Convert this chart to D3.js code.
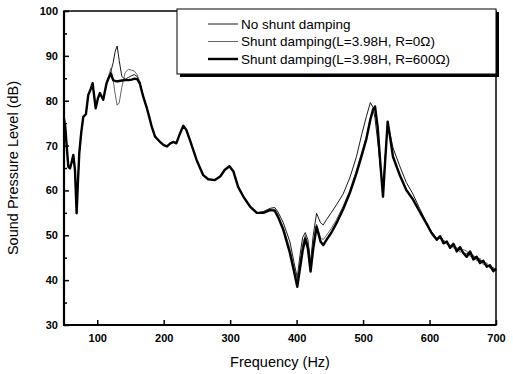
<!DOCTYPE html>
<html>
<head>
<meta charset="utf-8">
<script src="https://cdn.jsdelivr.net/npm/d3@7"></script>
<style>
  body { margin: 0; background: #fff; }
  text { font-family: "Liberation Sans", Arial, sans-serif; fill: #000; }
</style>
</head>
<body>
<div id="chart"></div>
<script>
// frequency grid (Hz), shared by the three curves
var freq = [50, 52, 54, 56.5, 59, 61, 64, 66.5, 69, 71, 73, 76, 79, 83, 86.5, 90, 93, 97.7, 101, 104,
  109, 114, 117, 120.5, 124, 127, 130, 133, 137, 142, 147, 152, 156, 160, 164, 169, 174, 178, 182, 187,
  194, 200, 205, 210, 215, 219, 224, 229.5, 234, 239.5, 249.5, 259.5, 267, 277, 285, 292, 299, 305, 312, 320,
  330, 340, 350, 360, 367, 372, 380, 390, 396, 401, 405, 409, 413, 417, 421, 425, 430, 436, 440, 445,
  452, 460, 470, 480, 490, 498, 505, 511, 515, 518, 522, 526, 530, 533, 537, 540, 545, 555, 565, 575,
  585, 595, 603, 611, 616, 621, 626, 631, 636, 641, 646, 651, 656, 661, 666, 671, 676, 681, 686, 691, 696, 700];

// shunt damping L=3.98H, R=600 ohm (thick)
var spl600 = [76, 74, 70, 65.3, 64.9, 66, 67.9, 64.6, 54.9, 62, 68.3, 73, 76.4, 77, 81.3, 82.5, 83.9, 78.3, 80.5, 81.7,
  80.2, 83.9, 85, 86, 84.6, 84.4, 84.3, 84.4, 84.5, 84.6, 84.6, 84.7, 84.9, 84.8, 83.9, 81, 78.7, 76.5, 74.2, 72,
  70.9, 70.1, 69.8, 70.5, 70.8, 70.5, 72.5, 74.4, 73.5, 71.2, 66.8, 63.4, 62.5, 62.3, 63.1, 64.6, 65.4, 64.2, 60.8, 58.6,
  56.4, 55, 55, 55.6, 55.5, 54.1, 51.2, 46, 42, 38.5, 42.5, 46.5, 49.3, 47, 41.9, 47, 51.9, 48.6, 47.8, 49,
  50.5, 52.7, 55.8, 59.4, 63.8, 67.8, 71.5, 75.8, 78, 78.7, 74, 66, 58.6, 66, 75.3, 72.5, 67.5, 63.5, 60.1, 58,
  55.3, 52.7, 50.5, 49, 49.8, 48.2, 48.6, 47.2, 48.1, 46.4, 47.3, 46, 45.2, 46.4, 44.6, 45.2, 43.8, 44.3, 43, 43.3, 42, 42.5];

// shunt damping L=3.98H, R=0 ohm
var spl0 = [76, 74, 70, 65.3, 64.9, 66, 67.9, 64.6, 55.5, 62, 68.3, 73, 76.4, 77, 81.3, 82.5, 83.9, 78.5, 80.5, 81.7,
  80.2, 83.9, 85.5, 87.2, 84.5, 81.5, 79, 79.5, 83, 86.3, 87, 86.8, 86.6, 85.8, 84.3, 81.2, 78.7, 76.5, 74.2, 72,
  70.9, 70.1, 69.8, 70.5, 70.8, 70.5, 72.5, 74.4, 73.5, 71.2, 66.8, 63.4, 62.5, 62.3, 63.1, 64.6, 65.4, 64.2, 60.8, 58.6,
  56.4, 55, 55.2, 55.8, 55.8, 54.6, 51.8, 47, 43, 39.5, 44, 48, 50, 48, 42.3, 48, 52.5, 49.5, 49, 50,
  51.5, 53.5, 56.5, 60, 64.5, 68.5, 72, 76.3, 78.3, 78.9, 74.5, 66.5, 59.5, 66.5, 75.3, 72.5, 67.8, 63.6, 60.3, 58.2,
  55.4, 52.8, 50.7, 49.2, 49.3, 48.6, 48, 47.8, 47.2, 47.3, 46.2, 46.8, 46.5, 45.3, 45.6, 44.3, 44.9, 43.4, 43.9, 42.6, 42.9, 42.1];

// no shunt damping
var splNone = [76.5, 74, 70.5, 65.5, 65, 66, 67.8, 64.8, 55.5, 62, 68.3, 73, 76.4, 77, 81.3, 82.5, 83.9, 78.3, 80.5, 81.7,
  80.2, 83.9, 85, 86.5, 88.5, 91, 92.2, 89, 85.4, 84.8, 85.2, 85.6, 85.8, 85.4, 84.2, 81.2, 78.7, 76.5, 74.2, 72,
  70.9, 70.1, 69.8, 70.5, 70.8, 70.5, 72.5, 74.4, 73.5, 71.2, 66.8, 63.4, 62.5, 62.3, 63.1, 64.6, 65.4, 64.2, 60.8, 58.6,
  56.4, 55, 55.3, 56, 56.2, 55.2, 52.8, 48.5, 44, 40.5, 45.5, 49.5, 50.6, 49, 44, 50, 54.9, 52.8, 52.3, 53.5,
  55, 56.8, 59.2, 62.8, 67.5, 72.5, 76.5, 79.6, 78.5, 76, 71, 65, 60.5, 67, 74.5, 73, 69.5, 65.5, 61.8, 59.2,
  56, 53, 50.8, 49.3, 49.8, 48.8, 48.5, 47.5, 47.6, 46.9, 47.6, 46.1, 45.9, 46.4, 45.2, 45.3, 44.4, 44.2, 43.1, 43.4, 42.5, 42.6];

var xTicks = [100, 200, 300, 400, 500, 600, 700];
var yTicks = [30, 40, 50, 60, 70, 80, 90, 100];
var yMinor = [35, 45, 55, 65, 75, 85, 95];

var legendLabels = ["No shunt damping", "Shunt damping(L=3.98H, R=0\u03a9)", "Shunt damping(L=3.98H, R=600\u03a9)"];

var margin = {top: 11, right: 17, bottom: 49, left: 64},
  width = 513 - margin.left - margin.right,
  height = 374 - margin.top - margin.bottom;

var svg = d3.select("#chart")
  .append("svg")
  .attr("width", 513)
  .attr("height", 374)
  .append("g")
  .attr("transform", "translate(" + margin.left + "," + margin.top + ")");

var x = d3.scaleLinear().domain([50, 700]).range([0, width]);
var y = d3.scaleLinear().domain([30, 100]).range([height, 0]);

// curves
var series = [
  {values: splNone, color: "#000", w: 0.9},
  {values: spl0, color: "#555", w: 0.9},
  {values: spl600, color: "#000", w: 2.4}
];

var line = d3.line()
  .x(function(d) { return x(d[0]); })
  .y(function(d) { return y(d[1]); });

svg.selectAll("path.curve")
  .data(series)
  .enter()
  .append("path")
    .attr("class", "curve")
    .attr("d", function(s) { return line(d3.zip(freq, s.values)); })
    .style("fill", "none")
    .style("stroke", function(s) { return s.color; })
    .style("stroke-width", function(s) { return s.w; })
    .style("stroke-linejoin", "round");

// axes, ticks pointing inward
svg.append("g")
  .attr("transform", "translate(0," + height + ")")
  .call(d3.axisBottom(x).tickValues(xTicks).tickSize(-5).tickPadding(9));
svg.append("g")
  .call(d3.axisLeft(y).tickValues(yTicks).tickSize(-5).tickPadding(6));
svg.append("g")
  .call(d3.axisLeft(y).tickValues(yMinor).tickSize(-3).tickFormat(""));

svg.selectAll(".domain").remove();
svg.selectAll(".tick line").style("stroke", "#000").style("stroke-width", 1.5);
svg.selectAll(".tick text")
  .style("font-family", "'Liberation Sans', Arial, sans-serif")
  .style("font-size", "11px")
  .style("font-weight", "bold");

// frame
svg.append("rect")
  .attr("width", width)
  .attr("height", height)
  .style("fill", "none")
  .style("stroke", "#000")
  .style("stroke-width", 1.5);
svg.append("path")
  .attr("d", "M0,0V" + height + "H" + width)
  .style("fill", "none")
  .style("stroke", "#000")
  .style("stroke-width", 2.2);

// axis titles
svg.append("text")
  .attr("x", width / 2)
  .attr("y", height + 42)
  .attr("text-anchor", "middle")
  .style("font-size", "14.5px")
  .text("Frequency (Hz)");
svg.append("text")
  .attr("transform", "translate(-46," + (height / 2) + ") rotate(-90)")
  .attr("text-anchor", "middle")
  .style("font-size", "14.5px")
  .text("Sound Pressure Level (dB)");

// legend with drop shadow
var lx = 113, ly = -2, lw = width - 113, lh = 65;
svg.append("rect")
  .attr("x", lx + 3).attr("y", ly + 3)
  .attr("width", lw).attr("height", lh)
  .style("fill", "#000");
svg.append("rect")
  .attr("x", lx).attr("y", ly)
  .attr("width", lw).attr("height", lh)
  .style("fill", "#fff")
  .style("stroke", "#000")
  .style("stroke-width", 1);

var legend = svg.selectAll("g.leg")
  .data(series)
  .enter()
  .append("g")
    .attr("class", "leg")
    .attr("transform", function(d, i) { return "translate(" + (lx + 31) + "," + (ly + 15 + i * 17.5) + ")"; });
legend.append("line")
  .attr("x1", 0).attr("x2", 30)
  .style("stroke", function(d) { return d.color; })
  .style("stroke-width", function(d) { return d.w; });
legend.append("text")
  .attr("x", 33)
  .attr("dy", "0.35em")
  .style("font-size", "13.5px")
  .text(function(d, i) { return legendLabels[i]; });
</script>
</body>
</html>
